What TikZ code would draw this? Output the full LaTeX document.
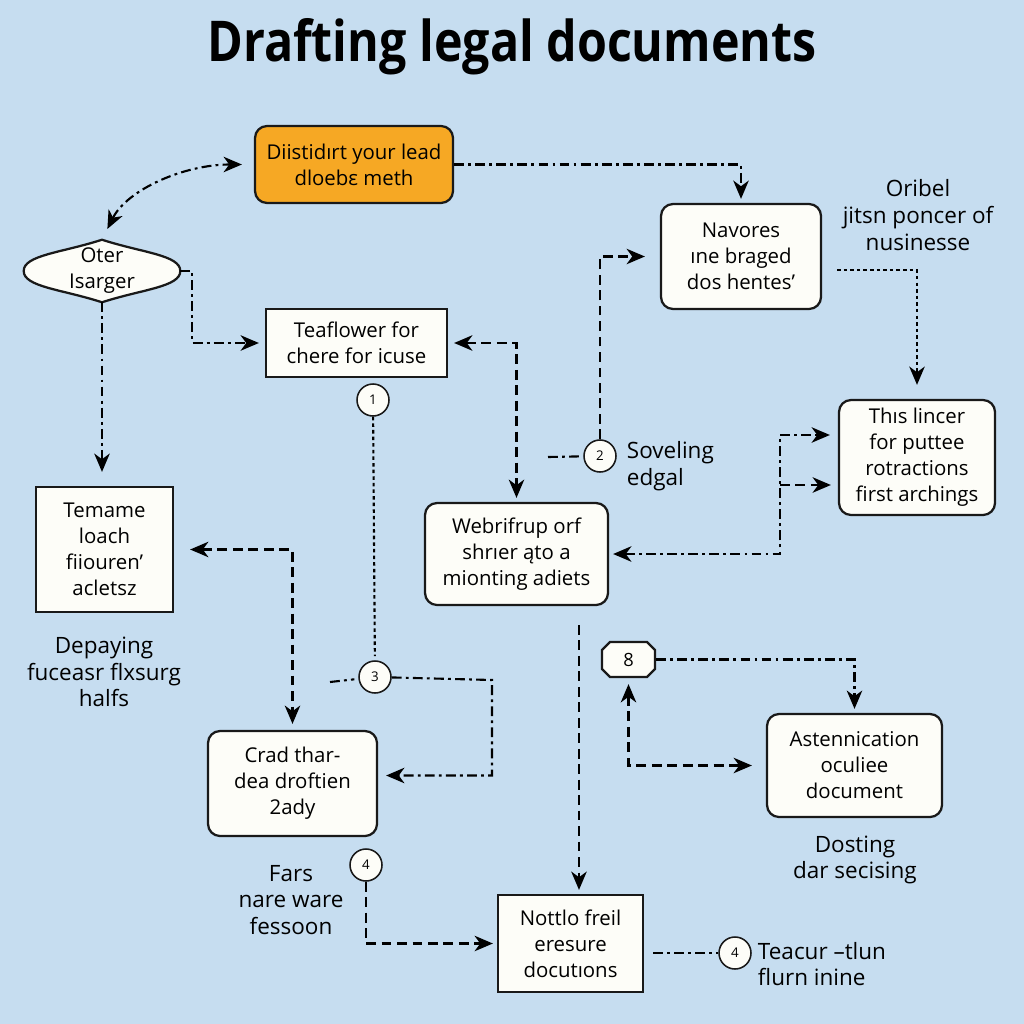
\documentclass[tikz,border=0pt]{standalone}
\usepackage{fontspec}
\setmainfont{Open Sans}
\usetikzlibrary{arrows.meta,shapes.misc}

\definecolor{bgblue}{RGB}{198,221,240}
\definecolor{leadorange}{RGB}{246,168,36}
\definecolor{paper}{RGB}{253,253,248}
\newdimen\px \px=0.025cm

\tikzset{
  box/.style={draw=black!90, line width=1.6pt, fill=paper, align=center,
    font=\fontsize{14.5}{18.5}\selectfont, inner sep=0pt},
  rbox/.style={box, rounded corners=0.3cm},
  num/.style={circle, draw=black!90, line width=1.1pt, fill=paper, minimum size=32\px,
    inner sep=0pt, font=\fontsize{9.5}{9.5}\selectfont},
  note/.style={align=center, font=\fontsize{16}{19}\selectfont},
  link/.style={line width=1.5pt, shorten >=4\px},
  dashlink/.style={link, dash pattern=on 7pt off 4pt},
  ddlink/.style={link, dash pattern=on 7pt off 3pt on 2pt off 3pt},
  dotlink/.style={link, dash pattern=on 2.5pt off 2.2pt},
}

\begin{document}
\begin{tikzpicture}[x=0.025cm, y=-0.025cm, >={Stealth[length=13pt,width=11pt,inset=4pt]}]
    % Background
    \fill[bgblue] (0,0) rectangle (1024,1024);
    \useasboundingbox (0,0) rectangle (1024,1024);

    \node[font=\fontsize{40}{40}\bfseries\selectfont] (title) at (512,47) {\scalebox{0.86}[1]{Drafting legal documents}};

    % Boxes
    \node[rbox, fill=leadorange, minimum width=198\px, minimum height=77\px] (lead) at (354,164.5)
        {Diistidırt your lead\\dloebε meth};
    \node[rbox, minimum width=160\px, minimum height=105\px] (navores) at (741,256.5)
        {Navores\\ıne braged\\dos hentes'};
    \node[box, minimum width=181\px, minimum height=68\px] (tea) at (356.5,343)
        {Teaflower for\\chere for icuse};
    \node[rbox, minimum width=156\px, minimum height=115\px] (lincer) at (917,457.5)
        {Thıs lincer\\for puttee\\rotractions\\first archings};
    \node[box, minimum width=137\px, minimum height=125\px] (temame) at (104.5,549.5)
        {Temame\\loach\\fiiouren'\\acletsz};
    \node[rbox, minimum width=183\px, minimum height=102\px] (webri) at (516.5,554)
        {Webrifrup orf\\shrıer ąto a\\mionting adiets};
    \node[rbox, minimum width=169\px, minimum height=105\px] (crad) at (292.5,783.5)
        {Crad thar-\\dea droftien\\2ady};
    \node[rbox, minimum width=175\px, minimum height=103\px] (asten) at (854.5,765.5)
        {Astennication\\oculiee\\document};
    \node[box, minimum width=145\px, minimum height=97\px] (nottlo) at (570.5,943.5)
        {Nottlo freil\\eresure\\docutıons};
    \node[box, chamfered rectangle, chamfered rectangle xsep=4\px, chamfered rectangle ysep=4\px,
        minimum width=53\px, minimum height=35\px, font=\fontsize{13}{13}\selectfont] (box8) at (628.5,659.5) {8};

    % Lens shaped node
    \node[minimum width=156\px, minimum height=62\px, inner sep=0pt] (oter) at (102,271) {};
    \draw[line width=1.6pt, draw=black!90, fill=paper]
        (oter.north) .. controls +(40,13) and +(0,-16) .. (oter.east)
        .. controls +(0,16) and +(40,-13) .. (oter.south)
        .. controls +(-40,-13) and +(0,16) .. (oter.west)
        .. controls +(0,-16) and +(-40,13) .. (oter.north) -- cycle;
    \node[align=center, font=\fontsize{14.5}{18.5}\selectfont] (oterlabel) at (oter) {Oter\\Isarger};

    % Numbered circles
    \foreach \n/\x/\y/\t in {c1/373/400/1, c2/600/456/2, c3/375/677/3, c4a/366/865/4, c4b/735/953/4}
        \node[num] (\n) at (\x,\y) {\t};

    % Loose notes
    \node[note] (oribel) at (918,215) {Oribel\\jitsn poncer of\\nusinesse};
    \node[note, align=left, anchor=west] (soveling) at (622,466) {Soveling\\edgal};
    \node[note] (depaying) at (104,672) {Depaying\\fuceasr flxsurg\\halfs};
    \node[note] (dosting) at (855,860) {Dosting\\dar secising};
    \node[note] (fars) at (291,900) {Fars\\nare ware\\fessoon};
    \node[note, align=left, anchor=west] (teacur) at (753,964) {Teacur –tlun\\flurn inine};

    % Free ends and bends
    \coordinate (c2tail) at (548,457);
    \coordinate (oribtail) at (837,270);
    \coordinate (junc) at (780,435);
    \coordinate (junc2) at (780,485);
    \coordinate (c3tail) at (330,682);
    \coordinate (c3turn) at (492,680);
    \coordinate (webritail) at (579,625);

    % Connectors
    \draw[ddlink, <->, shorten <=12\px, shorten >=12\px] (oter.north) .. controls +(25,-50) and +(-70,0) .. (lead.west);
    \draw[ddlink, ->] (lead) -| (navores);
    \draw[ddlink, ->, shorten >=6\px] (oter.east) -- ++(12,0) |- (tea);
    \draw[ddlink, ->, shorten >=14\px] (oter.south) -- (oter.south |- temame.north);
    \draw[dashlink, <->, shorten <=6\px] (tea) -| (webri);
    \draw[dotlink] (c1) -- (c3);
    \draw[ddlink] (c2tail) -- (c2);
    \draw[dashlink, ->, shorten >=15\px] (c2) |- (navores);
    \draw[dotlink, ->, shorten >=14\px] (oribtail) -| (lincer);
    \draw[ddlink, <->, shorten <=4\px, shorten >=8\px] (webri) -| (junc) -- (junc -| lincer.west);
    \draw[dashlink, ->, shorten >=7\px] (junc2) -- (junc2 -| lincer.west);
    \draw[dashlink, <->, shorten <=16\px, shorten >=6\px] (temame) -| (crad);
    \draw[ddlink] (c3tail) -- (c3);
    \draw[ddlink, ->, shorten >=8\px] (c3) -- (c3turn) |- ([yshift=8\px]crad.east);
    \draw[dashlink, ->] (webritail) -- (webritail |- nottlo.north);
    \draw[ddlink, ->] (box8) -| (asten);
    \draw[dashlink, <->, shorten <=6\px, shorten >=14\px] (box8) |- (asten);
    \draw[dashlink, ->] (c4a) |- (nottlo);
    \draw[ddlink, shorten <=9\px, shorten >=0pt] (nottlo.east |- c4b) -- (c4b);
\end{tikzpicture}
\end{document}
